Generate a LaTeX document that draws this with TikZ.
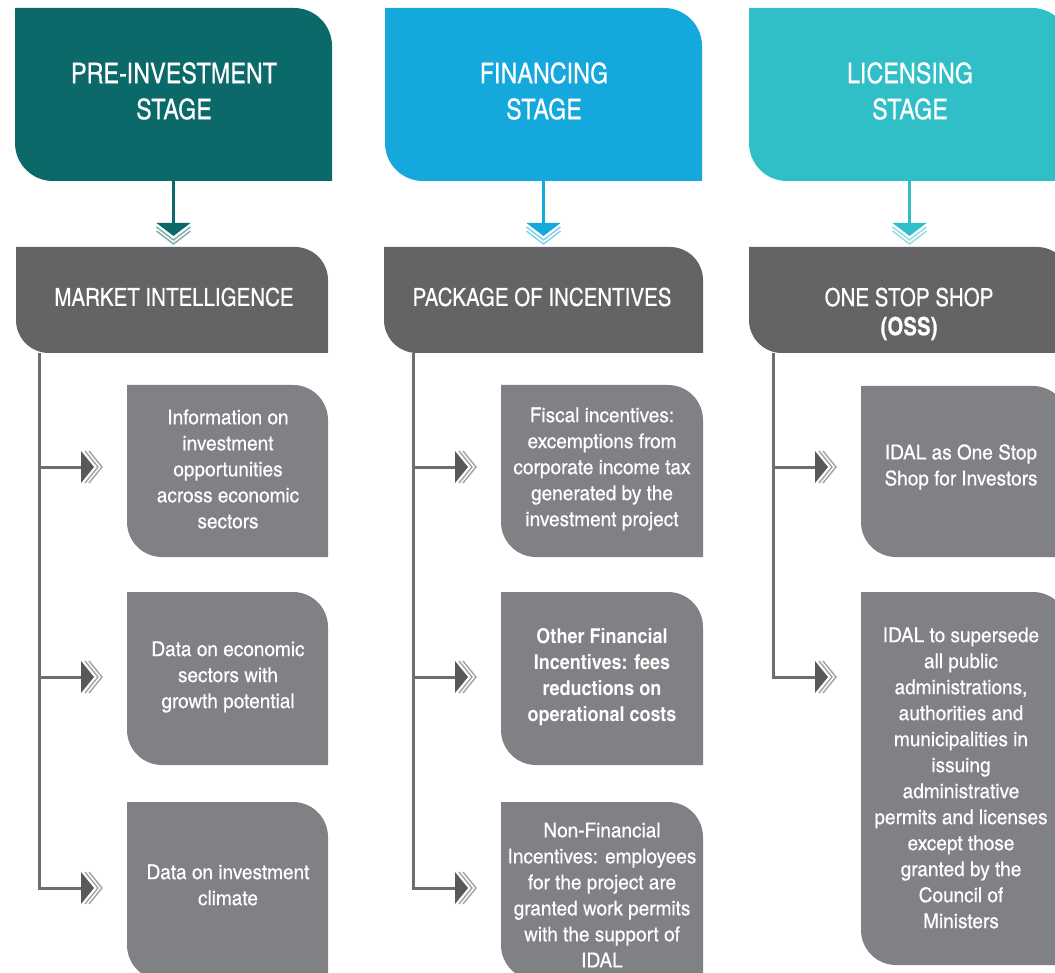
\documentclass[tikz,border=0pt]{standalone}
\usepackage{fontspec}
\setmainfont{TeX Gyre Heros Cn}
\newfontfamily\detfont[FakeStretch=1.13,FakeBold=0.3]{TeX Gyre Heros Cn}
\newfontfamily\detbold[FakeStretch=1.07]{TeX Gyre Heros Cn Bold}
\newfontfamily\midfont[FakeBold=0.2]{TeX Gyre Heros Cn}
\definecolor{cteal}{HTML}{0B6A69}
\definecolor{cblue}{HTML}{14A8DC}
\definecolor{ccyan}{HTML}{30BFC7}
\definecolor{cmid}{HTML}{646466}
\definecolor{cdet}{HTML}{808184}
\definecolor{cline}{HTML}{6D6E71}
\definecolor{chead}{HTML}{58595B}
\definecolor{cchev}{HTML}{A0A2A5}
\newcommand\cornerbox[7]{%
  \fill[#7] (#2,#3) -- ({#4-#6},#3) arc[start angle=90,end angle=0,radius=#6pt]
    -- (#4,#5) -- ({#2+#6},#5) arc[start angle=270,end angle=180,radius=#6pt] -- cycle;
  \node[boxnode,minimum width={#4pt-#2pt},minimum height={#5pt-#3pt}] (#1) at ({(#2+#4)/2},{(#3+#5)/2}) {};}
\newcommand\downhead[2]{%
  \begin{scope}[shift={(#1)}]
    \fill[#2] (-17,0) -- (17,0) -- (0,13) -- cycle;
    \draw[#2!55,line width=1.4pt] (-17,4) -- (0,17) -- (17,4);
    \draw[#2!55,line width=1.4pt] (-17,8) -- (0,21) -- (17,8);
  \end{scope}}
\newcommand\righthead[1]{%
  \begin{scope}[shift={(#1)}]
    \fill[chead] (0,-16) -- (13,0) -- (0,16) -- cycle;
    \draw[cchev,line width=1.4pt] (4,-16) -- (17,0) -- (4,16);
    \draw[cchev,line width=1.4pt] (8,-16) -- (21,0) -- (8,16);
  \end{scope}}
\tikzset{
  boxnode/.style={rectangle,inner sep=0pt,outer sep=0pt},
  hdtext/.style={text=white,align=center,font=\midfont\fontsize{28.5}{36}\selectfont,inner sep=0pt},
  midtext/.style={text=white,align=center,font=\midfont\fontsize{25}{29}\selectfont,inner sep=0pt},
  dettext/.style={text=white,align=center,font=\detfont\fontsize{20.5}{26}\selectfont,inner sep=0pt},
  stem/.style={line width=3.5pt},
  trunk/.style={cline,line width=3pt},
}
\begin{document}
\begin{tikzpicture}[x=1pt,y=-1pt]
\useasboundingbox (0,0) rectangle (1055,973);
\clip (0,0) rectangle (1055,973);
% headers
\cornerbox{h1}{15}{8}{332}{181}{38}{cteal}
\cornerbox{h2}{385}{8}{702}{181}{38}{cblue}
\cornerbox{h3}{749}{8}{1070}{181}{38}{ccyan}
\node[hdtext] (h1t) at (174,91) {PRE-INVESTMENT\\STAGE};
\node[hdtext] (h2t) at (544,91) {FINANCING\\STAGE};
\node[hdtext] (h3t) at (910,91) {LICENSING\\STAGE};
% mid boxes
\cornerbox{m1}{16}{247}{328}{353}{33}{cmid}
\cornerbox{m2}{384}{247}{703}{353}{33}{cmid}
\cornerbox{m3}{749}{247}{1070}{353}{33}{cmid}
\node[midtext] (m1t) at (174,297) {MARKET INTELLIGENCE};
\node[midtext] (m2t) at (542,297) {PACKAGE OF INCENTIVES};
\node[midtext] (m3t) at (909,314) {ONE STOP SHOP\\\textbf{(OSS)}};
% header connectors
\coordinate (d1) at (h1.south |- 0,223);
\coordinate (d2) at (h2.south |- 0,223);
\coordinate (d3) at (h3.south |- 0,223);
\draw[stem,cteal] (h1.south) -- (d1);
\draw[stem,cblue] (h2.south) -- (d2);
\draw[stem,ccyan] (h3.south) -- (d3);
\downhead{d1}{cteal}
\downhead{d2}{cblue}
\downhead{d3}{ccyan}
% detail boxes
\cornerbox{b11}{127}{385}{328}{557}{35}{cdet}
\cornerbox{b12}{127}{592}{328}{765}{35}{cdet}
\cornerbox{b13}{127}{802}{328}{980}{35}{cdet}
\cornerbox{b21}{501}{385}{703}{557}{35}{cdet}
\cornerbox{b22}{501}{592}{703}{765}{35}{cdet}
\cornerbox{b23}{501}{802}{703}{980}{35}{cdet}
\cornerbox{b31}{861}{386}{1068}{557}{35}{cdet}
\cornerbox{b32}{861}{592}{1068}{965}{35}{cdet}
\node[dettext] (b11t) at (228,469) {Information on\\investment\\opportunities\\across economic\\sectors};
\node[dettext] (b12t) at (228,677) {Data on economic\\sectors with\\growth potential};
\node[dettext] (b13t) at (228,885) {Data on investment\\climate};
\node[dettext] (b21t) at (602,469) {Fiscal incentives:\\excemptions from\\corporate income tax\\generated by the\\investment project};
\node[dettext,font=\detbold\fontsize{20.5}{26}\selectfont] (b22t) at (602,677) {Other Financial\\Incentives: fees\\reductions on\\operational costs};
\node[dettext] (b23t) at (602,895) {Non-Financial\\Incentives: employees\\for the project are\\granted work permits\\with the support of\\IDAL};
\node[dettext] (b31t) at (961,467) {IDAL as One Stop\\Shop for Investors};
\node[dettext] (b32t) at (961,778) {IDAL to supersede\\all public\\administrations,\\authorities and\\municipalities in\\issuing\\administrative\\permits and licenses\\except those\\granted by the\\Council of\\Ministers};
% trunks and branches
\coordinate (t1) at (39,353);
\coordinate (t2) at (413,353);
\coordinate (t3) at (773,353);
\coordinate (r11) at (81,467);
\coordinate (r12) at (81,677);
\coordinate (r13) at (81,888);
\coordinate (r21) at (455,467);
\coordinate (r22) at (455,677);
\coordinate (r23) at (455,888);
\coordinate (r31) at (815,467);
\coordinate (r32) at (815,677);
\draw[trunk] (t1) |- (r13);
\draw[trunk] (t1 |- r11) -- (r11);
\draw[trunk] (t1 |- r12) -- (r12);
\draw[trunk] (t2) |- (r23);
\draw[trunk] (t2 |- r21) -- (r21);
\draw[trunk] (t2 |- r22) -- (r22);
\draw[trunk] (t3) |- (r32);
\draw[trunk] (t3 |- r31) -- (r31);
\righthead{r11}\righthead{r12}\righthead{r13}
\righthead{r21}\righthead{r22}\righthead{r23}
\righthead{r31}\righthead{r32}
\end{tikzpicture}
\end{document}
